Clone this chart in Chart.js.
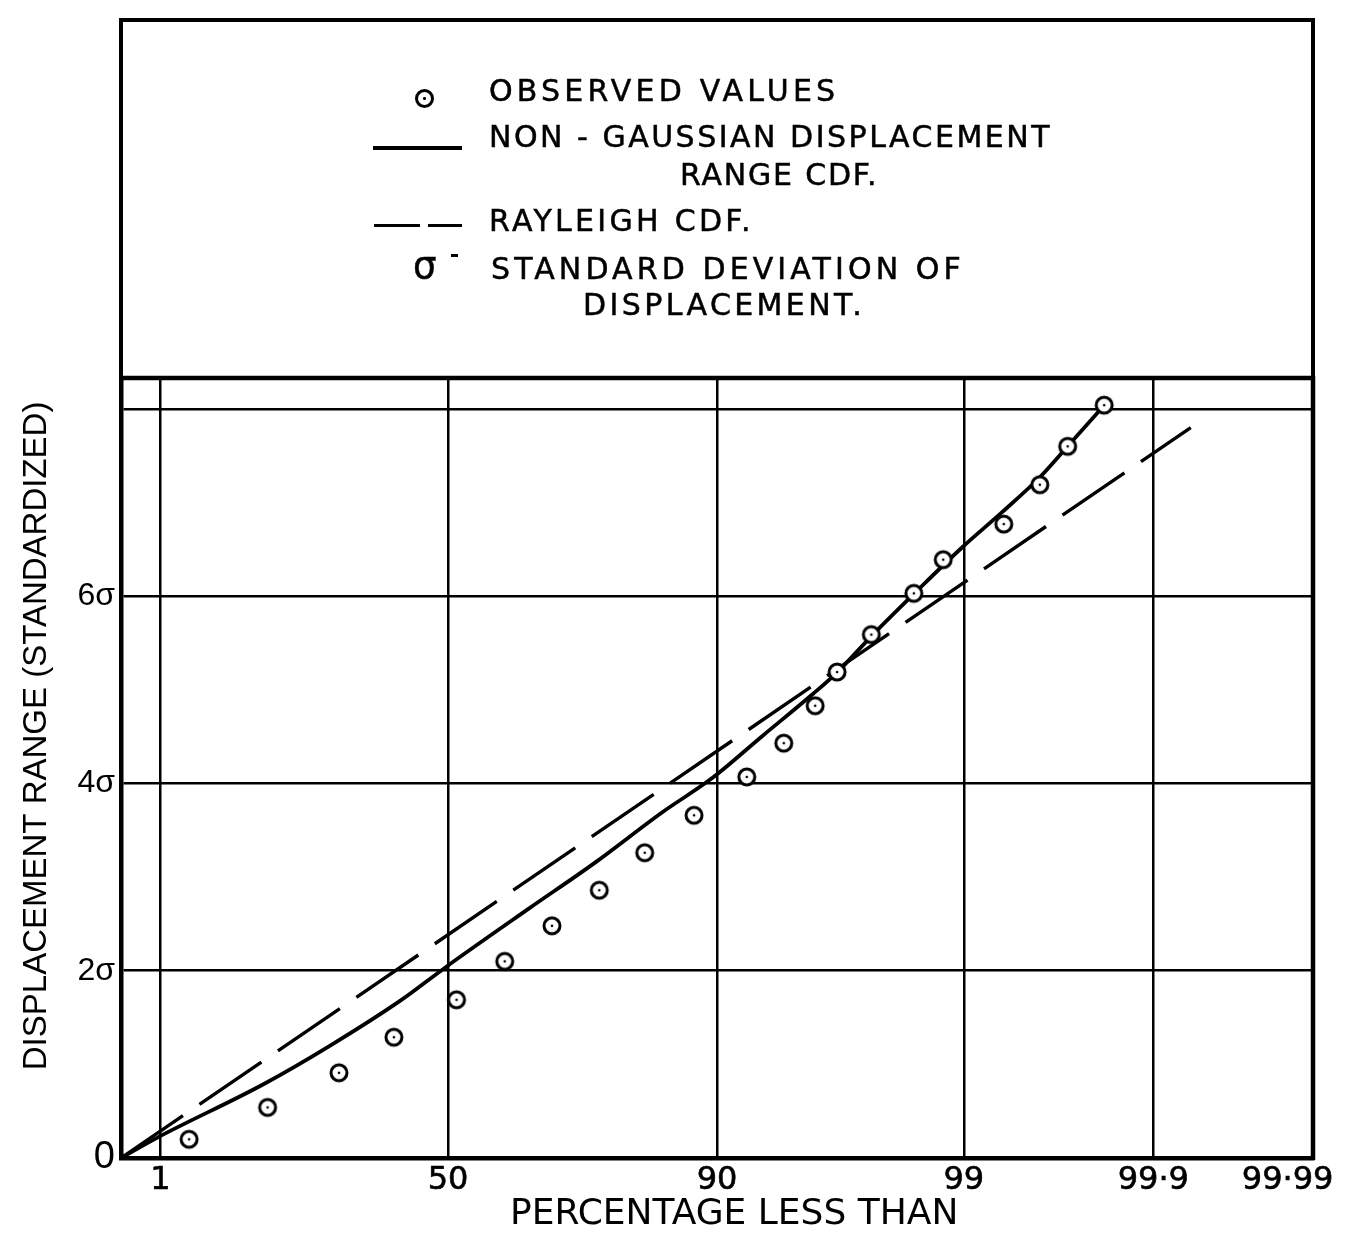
<!DOCTYPE html>
<html>
<head>
<meta charset="utf-8">
<script src="https://cdn.jsdelivr.net/npm/chart.js@4.4.1/dist/chart.umd.min.js"></script>
<style>
html,body{margin:0;padding:0;background:#fff;}
#wrap{position:relative;width:1356px;height:1238px;overflow:hidden;background:#fff;}
#c{position:absolute;left:0;top:0;}
.box{position:absolute;left:119px;top:18px;width:1196px;height:362px;box-sizing:border-box;border:4.5px solid #000;border-bottom:none;}
.lg{position:absolute;font-family:'DejaVu Sans',sans-serif;font-size:30px;line-height:30px;letter-spacing:3px;color:#000;white-space:nowrap;-webkit-text-stroke:0.5px #000;}
.mk{position:absolute;box-sizing:border-box;width:19px;height:19px;border:3px solid #000;border-radius:50%;background:#fff;}
.mk::after{content:"";position:absolute;left:5.3px;top:5.3px;width:2.4px;height:2.4px;border-radius:50%;background:#000;}
.bar{position:absolute;background:#000;}
</style>
</head>
<body>
<div id="wrap">
  <canvas id="c" width="1356" height="1238"></canvas>
  <div class="box"></div>
  <div class="mk" style="left:415px;top:89px;"></div>
  <div class="lg" style="left:489px;top:76px;letter-spacing:4.2px;">OBSERVED VALUES</div>
  <div class="bar" style="left:373px;top:146px;width:89px;height:3.5px;"></div>
  <div class="lg" style="left:489px;top:122px;letter-spacing:2.5px;">NON - GAUSSIAN DISPLACEMENT</div>
  <div class="lg" style="left:680px;top:160px;letter-spacing:1.8px;">RANGE CDF.</div>
  <div class="bar" style="left:374px;top:224px;width:46px;height:3.2px;"></div>
  <div class="bar" style="left:428px;top:224px;width:34px;height:3.2px;"></div>
  <div class="lg" style="left:489px;top:206px;letter-spacing:3.3px;">RAYLEIGH CDF.</div>
  <div class="lg" style="left:413px;top:247px;letter-spacing:0;font-size:37px;line-height:37px;">σ</div>
  <div class="bar" style="left:451px;top:254px;width:7px;height:2.5px;"></div>
  <div class="lg" style="left:491px;top:254px;letter-spacing:4.1px;">STANDARD DEVIATION OF</div>
  <div class="lg" style="left:583px;top:290px;letter-spacing:3.4px;">DISPLACEMENT.</div>
</div>
<script>
// ---- data (x values are "percentage less than", y values in units of sigma) ----
const xTickPct = [1, 50, 90, 99, 99.9, 99.99];
const xTickLabels = ['1', '50', '90', '99', '99·9', '99·99     '];
const yTickValues = [0, 2, 4, 6, 8];
const yTickLabels = ['0', '2σ', '4σ', '6σ', ''];

const observedPct = [2.96, 13.0, 26.5, 38.3, 51.8, 61.5, 70.0, 77.3, 83.1, 88.1, 92.1, 94.2, 95.6, 96.4, 97.4, 98.3, 98.75, 99.36, 99.58, 99.70, 99.81];
const observedVal = [0.20, 0.54, 0.91, 1.29, 1.69, 2.10, 2.48, 2.86, 3.26, 3.66, 4.07, 4.43, 4.83, 5.19, 5.59, 6.03, 6.39, 6.77, 7.19, 7.60, 8.04];

const nonGaussPct = [0, 0.79, 12.4, 24.7, 39.7, 49.3, 65.9, 76.8, 85.0, 89.65, 93.07, 95.53, 96.41, 97.44, 98.31, 98.98, 99.35, 99.58, 99.70, 99.81];
const nonGaussVal = [0, 0.21, 0.79, 1.20, 1.68, 2.03, 2.66, 3.16, 3.69, 4.06, 4.51, 4.96, 5.19, 5.59, 6.03, 6.52, 6.90, 7.27, 7.60, 8.04];

const rayleighPct = [0, 99.94];
const rayleighVal = [0, 7.80];

// Rayleigh probability-paper transform for the horizontal axis
const toU = p => Math.sqrt(-2 * Math.log(1 - p / 100));
const pts = (px, vals) => px.map((p, i) => ({x: toU(p), y: vals[i]}));

function makeMarker() {
  const c = document.createElement('canvas');
  c.width = 26; c.height = 26;
  const g = c.getContext('2d');
  g.fillStyle = '#fff';
  g.beginPath(); g.arc(13, 13, 8, 0, Math.PI * 2); g.fill();
  g.lineWidth = 3; g.strokeStyle = '#000'; g.stroke();
  g.fillStyle = '#000';
  g.beginPath(); g.arc(13, 13, 1.3, 0, Math.PI * 2); g.fill();
  return c;
}

const framePlugin = {
  id: 'frame',
  beforeDatasetsDraw(chart) {
    const {ctx, chartArea: {left, top, right, bottom}} = chart;
    ctx.save();
    ctx.strokeStyle = '#000';
    ctx.lineWidth = 4.5;
    ctx.beginPath();
    ctx.moveTo(left - 2, top);
    ctx.lineTo(right, top);
    ctx.lineTo(right, bottom + 2);
    ctx.stroke();
    ctx.restore();
  }
};

new Chart(document.getElementById('c'), {
  type: 'scatter',
  data: {
    datasets: [
      {
        label: 'OBSERVED VALUES',
        data: pts(observedPct, observedVal),
        pointStyle: makeMarker(),
        pointRadius: 10,
        showLine: false
      },
      {
        label: 'NON-GAUSSIAN DISPLACEMENT RANGE CDF.',
        data: pts(nonGaussPct, nonGaussVal),
        showLine: true,
        borderColor: '#000',
        borderWidth: 3.8,
        pointRadius: 0,
        cubicInterpolationMode: 'monotone'
      },
      {
        label: 'RAYLEIGH CDF.',
        data: pts(rayleighPct, rayleighVal),
        showLine: true,
        borderColor: '#000',
        borderWidth: 3.4,
        borderDash: [75, 20],
        pointRadius: 0
      }
    ]
  },
  options: {
    responsive: false,
    animation: false,
    devicePixelRatio: 1,
    layout: {padding: {top: 378, right: 43, bottom: 0, left: 0}},
    plugins: {legend: {display: false}, tooltip: {enabled: false}},
    scales: {
      x: {
        type: 'linear',
        min: 0,
        max: toU(99.99),
        afterBuildTicks: s => { s.ticks = xTickPct.map(p => ({value: toU(p)})); },
        afterFit: s => { s.height = 80; s.paddingLeft = 0; s.paddingRight = 0; },
        ticks: {
          autoSkip: false,
          maxRotation: 0,
          padding: 3,
          color: '#000',
          textStrokeColor: '#000',
          textStrokeWidth: 0.6,
          font: {family: 'DejaVu Sans', size: 32},
          callback: (v, i) => xTickLabels[i]
        },
        grid: {color: '#000', lineWidth: 2.5, drawTicks: false},
        border: {color: '#000', width: 4.5},
        title: {
          display: true,
          text: '   PERCENTAGE LESS THAN',
          color: '#000',
          font: {family: 'DejaVu Sans', size: 36},
          padding: {top: 0, bottom: 2}
        }
      },
      y: {
        type: 'linear',
        min: 0,
        max: 8.33,
        afterBuildTicks: s => { s.ticks = yTickValues.map(v => ({value: v})); },
        afterFit: s => { s.width = 121; s.paddingTop = 0; s.paddingBottom = 0; },
        ticks: {
          padding: 6,
          color: '#000',
          font: c => ({family: 'Liberation Sans', size: (c.tick && c.tick.value === 0) ? 38 : 32}),
          callback: (v, i) => yTickLabels[i]
        },
        grid: {color: '#000', lineWidth: 2.5, drawTicks: false},
        border: {color: '#000', width: 4.5},
        title: {
          display: true,
          text: '       DISPLACEMENT RANGE (STANDARDIZED)',
          color: '#000',
          font: {family: 'Liberation Sans', size: 33},
          padding: {top: 17, bottom: 0}
        }
      }
    }
  },
  plugins: [framePlugin]
});
</script>
</body>
</html>
